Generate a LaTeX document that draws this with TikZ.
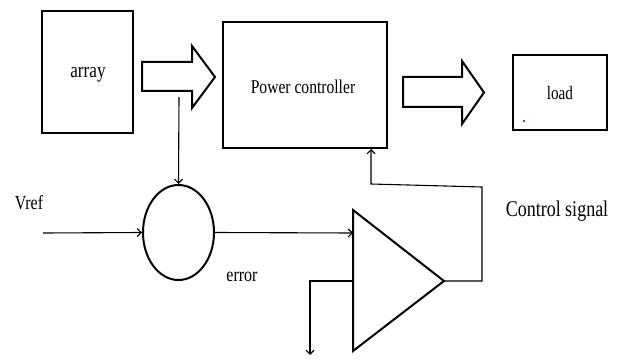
\documentclass[tikz,border=0pt]{standalone}
\usepackage{fontspec}
\setmainfont{Liberation Serif}
\newfontfamily\lblfont[FakeStretch=0.8]{Liberation Serif}
\usetikzlibrary{arrows.meta,shapes.geometric}
\begin{document}
\begin{tikzpicture}[x=1pt,y=-1pt,
  box/.style={draw,line width=2pt,inner sep=0pt},
  thin/.style={line width=1.1pt},
  arr/.style={thin,-{Straight Barb[length=4pt,width=8pt]}},
  blockarrow/.style={draw,line width=2pt,line join=miter},
  lbl/.style={inner sep=0pt,font=\lblfont}]
\useasboundingbox (0,0) rectangle (619,361);
% boxes
\node[box,minimum width=91,minimum height=122] (array) at (87.5,72) {};
\node[lbl,font=\lblfont\fontsize{21.5}{24}\selectfont] (arraytxt) at (88,75) {array};
\node[box,minimum width=164,minimum height=126] (pc) at (305,85) {};
\node[lbl,font=\lblfont\fontsize{19.5}{22}\selectfont] (pctxt) at (303,87) {Power controller};
\node[box,minimum width=94,minimum height=75] (load) at (560,92.5) {};
\node[lbl,font=\lblfont\fontsize{19}{22}\selectfont] (loadtxt) at (560,93) {load};
\fill[blue] (524,121) circle (1.1);
% block arrows
\draw[blockarrow] (142,62) -- (192,62) -- (192,46) -- (215,77) -- (192,108) -- (192,91) -- (142,91) -- cycle;
\draw[blockarrow] (403,77) -- (462,77) -- (462,61) -- (484,92.5) -- (462,124) -- (462,107) -- (403,107) -- cycle;
% summing junction
\node[draw,ellipse,line width=2pt,minimum width=71,minimum height=95,inner sep=0pt] (sum) at (178.5,232.5) {};
% amplifier
\coordinate (ampA) at (353,210);
\coordinate (ampB) at (353,351);
\coordinate (ampT) at (444,281);
\draw[line width=2pt,line join=miter] (ampA) -- (ampB) -- (ampT) -- cycle;
\coordinate (ampin1) at (353,233);
\coordinate (ampin2) at (353,281);
% connectors
\coordinate (tap) at (179,97);
\draw[arr] (tap) -- (sum.north);
\coordinate (vin) at (43,233);
\draw[arr] (vin) -- (sum.west);
\draw[arr] (sum.east) -- (ampin1);
\coordinate (fb1) at (482,187);
\coordinate (fb2) at (371,184);
\draw[arr] (ampT) -| (fb1) -- (fb2) -- (fb2 |- pc.south);
\coordinate (gnd) at (310,355);
\draw[arr] (ampin2) -| (gnd);
% labels
\node[lbl,font=\lblfont\fontsize{20}{22}\selectfont] (vref) at (29,203) {Vref};
\node[lbl,font=\lblfont\fontsize{20}{22}\selectfont] (err) at (242,277) {error};
\node[lbl,font=\lblfont\fontsize{22.5}{25}\selectfont] (cs) at (557,211) {Control signal};
\end{tikzpicture}
\end{document}
